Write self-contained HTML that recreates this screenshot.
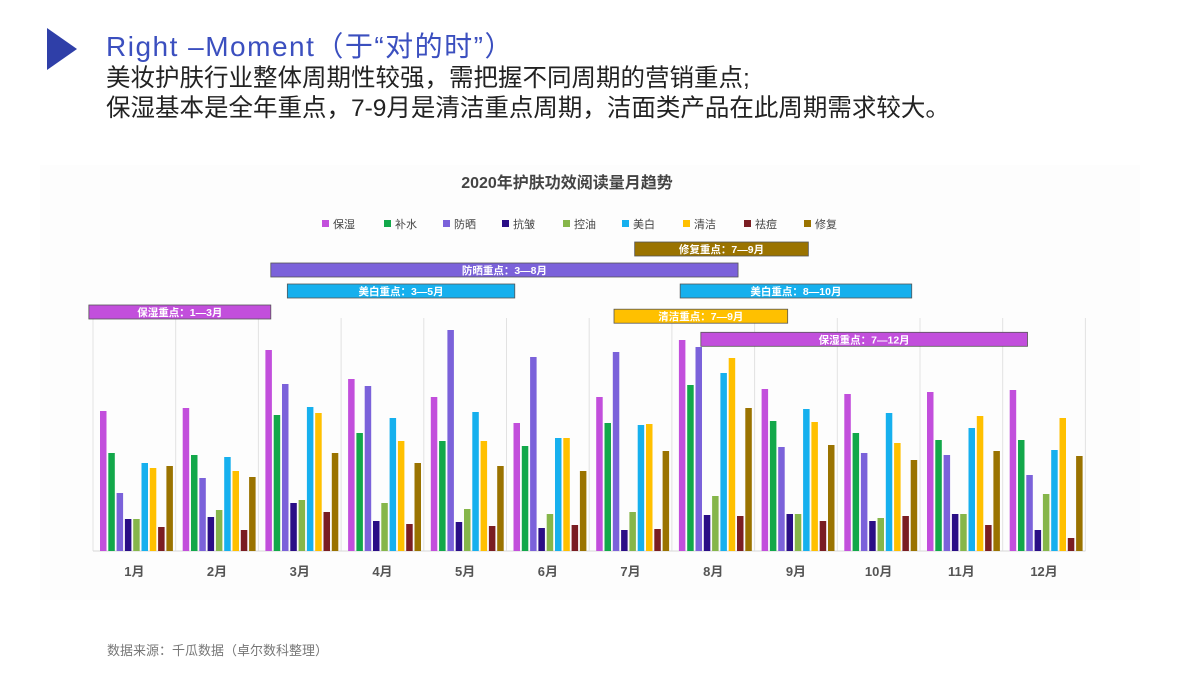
<!DOCTYPE html>
<html><head><meta charset="utf-8">
<style>
body{margin:0;width:1200px;height:675px;background:#fff;overflow:hidden;font-family:"Liberation Sans","Noto Sans CJK SC",sans-serif;position:relative}
.t{position:absolute;white-space:nowrap}
</style></head>
<body>
<div style="position:absolute;left:47px;top:28px;width:0;height:0;border-top:21px solid transparent;border-bottom:21px solid transparent;border-left:30px solid #2f3fa8"></div>
<div class="t" style="left:106px;top:30px;font-size:28px;letter-spacing:1.5px;color:#3b4fbf;line-height:34px">Right –Moment（于“对的时”）</div>
<div class="t" style="left:106px;top:64px;font-size:24.5px;color:#222;line-height:29px">美妆护肤行业整体周期性较强，需把握不同周期的营销重点;</div>
<div class="t" style="left:106px;top:94px;font-size:24.5px;color:#222;line-height:29px">保湿基本是全年重点，7-9月是清洁重点周期，洁面类产品在此周期需求较大。</div>
<div class="t" style="left:107px;top:640px;font-size:13px;color:#777">数据来源：千瓜数据（卓尔数科整理）</div>
<svg id="chart" width="1200" height="675" style="position:absolute;left:0;top:0" xmlns="http://www.w3.org/2000/svg"></svg>
<script>
const categories=["1月","2月","3月","4月","5月","6月","7月","8月","9月","10月","11月","12月"];
const seriesNames=["保湿","补水","防晒","抗皱","控油","美白","清洁","祛痘","修复"];
const seriesColors=["#c24fdc","#12a84a","#7b62da","#2a0e86","#86b64a","#16b0ee","#ffc000","#7a1d22","#9a7300"];
const s保湿=[140,143,201,172,154,128,154,211,162,157,159,161];
const s补水=[98,96,136,118,110,105,128,166,130,118,111,111];
const s防晒=[58,73,167,165,221,194,199,204,104,98,96,76];
const s抗皱=[32,34,48,30,29,23,21,36,37,30,37,21];
const s控油=[32,41,51,48,42,37,39,55,37,33,37,57];
const s美白=[88,94,144,133,139,113,126,178,142,138,123,101];
const s清洁=[83,80,138,110,110,113,127,193,129,108,135,133];
const s祛痘=[24,21,39,27,25,26,22,35,30,35,26,13];
const s修复=[85,74,98,88,85,80,100,143,106,91,100,95];
const seriesValues=[s保湿,s补水,s防晒,s抗皱,s控油,s美白,s清洁,s祛痘,s修复];
const annoLabels=["修复重点：7—9月","防晒重点：3—8月","美白重点：3—5月","美白重点：8—10月","保湿重点：1—3月","清洁重点：7—9月","保湿重点：7—12月"];
const annoStart=[6.55,2.15,2.35,7.1,-0.05,6.3,7.35];
const annoEnd=[8.65,7.8,5.1,9.9,2.15,8.4,11.3];
const annoSeries=[8,2,5,5,0,6,0];
const annoRow=[0,1,2,2,3,3.2,4.3];

const NS="http://www.w3.org/2000/svg";
const svg=document.getElementById('chart');
function mk(tag,a,p){const e=document.createElementNS(NS,tag);for(const k in a)e.setAttribute(k,a[k]);(p||svg).appendChild(e);return e;}
const x0=93,gw=82.7,base=551,yMax=233,plotTop=318;
const xg=i=>x0+i*gw;
const y=v=>base-v/yMax*(base-plotTop);
let bg=mk('rect',{x:40,y:165,width:1100,height:435,fill:'#fdfdfd'});


let tt=mk('text',{x:567,y:188,'text-anchor':'middle','font-size':16,fill:'#444','font-weight':'bold'});
tt.textContent='2020年护肤功效阅读量月趋势';


const legX=[322,384,443,502,563,622,683,744,804];
seriesNames.forEach((n,i)=>{
  const g=mk('g',{});
  
  
  mk('rect',{x:legX[i],y:220,width:7,height:7,fill:seriesColors[i]},g);
  const t=mk('text',{x:legX[i]+11,y:228,'font-size':11,fill:'#444'},g);t.textContent=n;
});
for(let i=0;i<=12;i++){
  const l=mk('line',{x1:xg(i),x2:xg(i),y1:plotTop,y2:base,stroke:'#e2e2e2','stroke-width':1});
  
  
}
const ax=mk('line',{x1:x0,x2:xg(12),y1:base,y2:base,stroke:'#d8d8d8'});


categories.forEach((c,i)=>{
  seriesValues.forEach((vals,s)=>{
    const r=mk('rect',{x:xg(i)+7+s*8.3,y:y(vals[i]),width:6.5,height:base-y(vals[i]),fill:seriesColors[s]});
    
    
  });
  const t=mk('text',{x:xg(i)+gw/2,y:576,'text-anchor':'middle','font-size':13,fill:'#555','font-weight':'bold'});
  t.textContent=c;
  
  
});
annoLabels.forEach((lab,i)=>{
  const g=mk('g',{});
  
  
  const xa=xg(annoStart[i]),xb=xg(annoEnd[i]),yy=242+annoRow[i]*21;
  mk('rect',{x:xa,y:yy,width:xb-xa,height:14,fill:seriesColors[annoSeries[i]],stroke:'#555','stroke-width':0.8},g);
  const t=mk('text',{x:(xa+xb)/2,y:yy+11,'text-anchor':'middle','font-size':10.5,fill:'#fff','font-weight':'bold'},g);
  t.textContent=lab;
});
</script>
</body></html>
